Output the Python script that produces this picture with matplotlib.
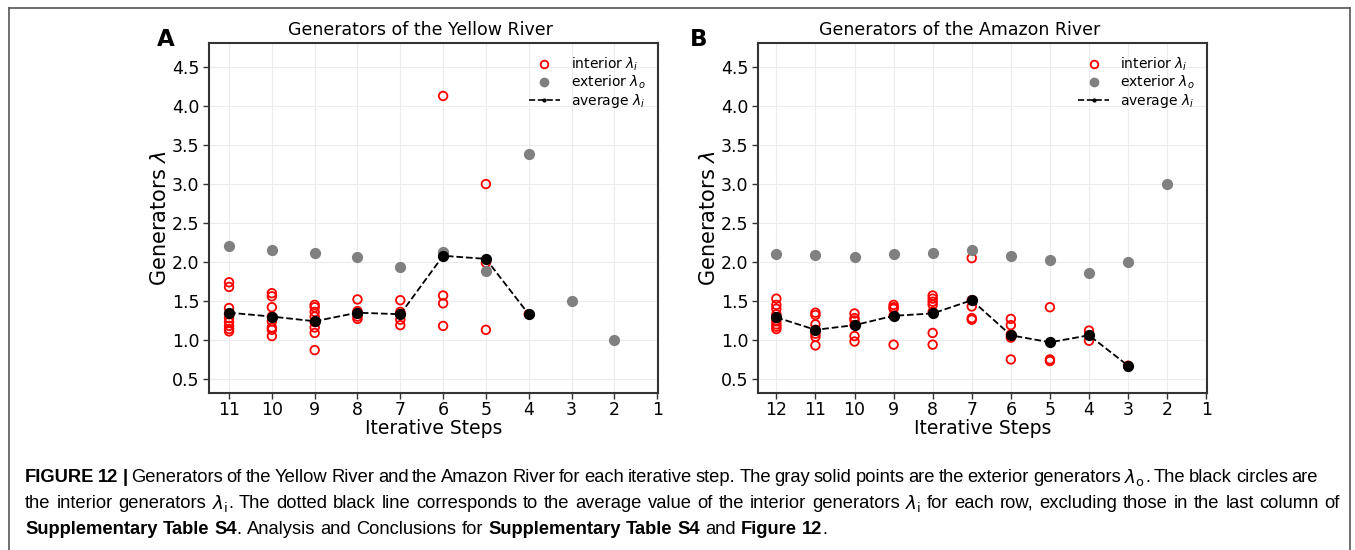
# Generators of the Yellow River / Amazon River per iterative step
import numpy as np
import matplotlib.pyplot as plt
from matplotlib.lines import Line2D

plt.rcParams['font.family'] = ['DejaVu Sans']

# Yellow River (panel A)
yr_steps = [11, 10, 9, 8, 7, 6, 5, 4, 3, 2]
yr_exterior = [2.20, 2.16, 2.12, 2.07, 1.94, 2.13, 1.88, 3.39, 1.50, 1.00]
yr_interior = [
    [1.74, 1.68, 1.41, 1.33, 1.28, 1.23, 1.18, 1.14, 1.11],
    [1.60, 1.56, 1.42, 1.30, 1.24, 1.16, 1.13, 1.05],
    [1.45, 1.42, 1.36, 1.30, 1.23, 1.16, 1.09, 0.87],
    [1.52, 1.37, 1.34, 1.30, 1.27],
    [1.51, 1.36, 1.33, 1.26, 1.19],
    [4.13, 1.57, 1.47, 1.18],
    [3.00, 1.99, 1.13],
    [1.33],
]
yr_avg = [1.35, 1.30, 1.24, 1.35, 1.33, 2.08, 2.04, 1.33]

# Amazon River (panel B)
am_steps = [12, 11, 10, 9, 8, 7, 6, 5, 4, 3, 2]
am_exterior = [2.10, 2.09, 2.07, 2.10, 2.12, 2.15, 2.08, 2.02, 1.86, 2.00, 3.00]
am_interior = [
    [1.53, 1.45, 1.40, 1.33, 1.24, 1.20, 1.17, 1.14],
    [1.35, 1.32, 1.20, 1.13, 1.08, 1.04, 0.93],
    [1.34, 1.28, 1.25, 1.19, 1.05, 0.98],
    [1.45, 1.42, 1.40, 1.31, 0.94],
    [1.57, 1.53, 1.49, 1.45, 1.36, 1.09, 0.94],
    [2.05, 1.51, 1.43, 1.28, 1.26],
    [1.27, 1.19, 1.07, 1.03, 0.75],
    [1.42, 0.75, 0.73],
    [1.12, 1.06, 0.99],
    [0.67],
]
am_avg = [1.29, 1.13, 1.19, 1.31, 1.34, 1.51, 1.06, 0.97, 1.06, 0.67]

fig = plt.figure(figsize=(13.55, 5.5), dpi=100)


def panel(ax, steps, exterior, interior, avg, title, xmax, title_x):
    for s, vals in zip(steps, interior):
        ax.scatter([s] * len(vals), vals, s=38, facecolors='none',
                   edgecolors='red', linewidths=1.3, zorder=3)
    ax.scatter(steps, exterior, s=50, color='#808080', zorder=3)
    avg_steps = steps[:len(avg)]
    ax.plot(avg_steps, avg, color='black', ls='--', lw=1.3, marker='.',
            ms=4, zorder=4)
    ax.scatter(avg_steps, avg, s=50, color='black', zorder=5)

    ax.set_xlim(xmax + 0.47, 0.98)
    ax.set_ylim(0.32, 4.81)
    ax.set_xticks(range(xmax, 0, -1))
    ax.set_yticks(np.arange(0.5, 4.6, 0.5))
    ax.grid(True, color='#ececec', lw=0.8)
    ax.set_axisbelow(True)
    for sp in ax.spines.values():
        sp.set_color('#333333')
        sp.set_linewidth(1.5)
    ax.tick_params(labelsize=12.5, length=4, width=1, color='#333333', pad=3)
    ax.tick_params(axis='x', pad=1.5)
    ax.set_title(title, fontsize=12.5, pad=6, x=title_x)
    ax.set_xlabel('Iterative Steps', fontsize=13.5, labelpad=0)
    ax.set_ylabel(r'Generators $\lambda$', fontsize=15, labelpad=1)

    handles = [
        Line2D([], [], ls='none', marker='o', ms=5.5, mfc='none', mec='red', mew=1.3),
        Line2D([], [], ls='none', marker='o', ms=6, color='#808080'),
        Line2D([], [], ls='--', lw=1.2, color='black', marker='.', ms=4),
    ]
    ax.legend(handles, [r'interior $\lambda_i$', r'exterior $\lambda_o$',
                        r'average $\lambda_i$'],
              loc='upper right', frameon=False, fontsize=10,
              handlelength=2.2, labelspacing=0.05, borderaxespad=0.5)


ax1 = fig.add_axes([0.1542, 0.2855, 0.3314, 0.6364])
ax2 = fig.add_axes([0.5594, 0.2855, 0.3314, 0.6364])
panel(ax1, yr_steps, yr_exterior, yr_interior, yr_avg,
      'Generators of the Yellow River', 11, 0.47)
panel(ax2, am_steps, am_exterior, am_interior, am_avg,
      'Generators of the Amazon River', 12, 0.45)

fig.text(157 / 1355, 1 - 40 / 550, 'A', fontsize=16.5, fontweight='bold',
         ha='left', va='center')
fig.text(690 / 1355, 1 - 40 / 550, 'B', fontsize=16.5, fontweight='bold',
         ha='left', va='center')

# outer frame
for xs, ys in [([9, 9], [560, 8]), ([9, 1350], [8, 8]), ([1350, 1350], [8, 560])]:
    fig.add_artist(Line2D([x / 1355 for x in xs], [1 - y / 550 for y in ys],
                          color='#555555', lw=1.2))

# caption, drawn word by word so the first two lines can be justified
cap_font = ['Liberation Sans', 'DejaVu Sans']
cap_lines = [
    [('FIGURE 12 |', True),
     (' Generators of the Yellow River and the Amazon River for each iterative step. '
      'The gray solid points are the exterior generators', False),
     (r' $\lambda_\mathrm{o}$', False), ('. The black circles are', False)],
    [('the interior generators', False), (r' $\lambda_\mathrm{i}$', False),
     ('. The dotted black line corresponds to the average value of the interior generators',
      False),
     (r' $\lambda_\mathrm{i}$', False),
     (' for each row, excluding those in the last column of', False)],
    [('Supplementary Table S4', True), ('. Analysis and Conclusions for', False),
     (' Supplementary Table S4', True), (' and', False), (' Figure 12', True),
     ('.', False)],
]
cap_right = [1318, 1340, None]
cap_y = [477, 503, 529]
renderer = fig.canvas.get_renderer()


def width_of(s, size, bold=False):
    t = fig.text(0, 0, s, fontsize=size, family=cap_font,
                 fontweight='bold' if bold else 'normal')
    w = t.get_window_extent(renderer).width
    t.remove()
    return w


def split_words(chunks):
    words = []
    for txt, bold in chunks:
        glue = not txt.startswith(' ')
        for i, w in enumerate(txt.strip().split(' ')):
            words.append((w, bold, i == 0 and glue and len(words) > 0))
    return words


# fit the font size so that line 2 nearly fills its width
size = 11.0
w2 = split_words(cap_lines[1])
sp0 = width_of('a b', size) - width_of('ab', size)
nat = sum(width_of(w, size, b) for w, b, _ in w2)
nat += sum(1 for _, _, g in w2[1:] if not g) * sp0
size = size * 1300 / nat

space = width_of('a b', size) - width_of('ab', size)
for chunks, right, yy in zip(cap_lines, cap_right, cap_y):
    words = split_words(chunks)
    arts = []
    for w, bold, glue in words:
        t = fig.text(0, 1 - yy / 550, w, fontsize=size, family=cap_font,
                     fontweight='bold' if bold else 'normal', va='center')
        arts.append((t, glue))
    widths = [t.get_window_extent(renderer).width for t, _ in arts]
    ngaps = sum(1 for _, g in arts[1:] if not g)
    gap = space
    if right is not None and ngaps > 0:
        gap = (right - 25 - sum(widths)) / ngaps
    x = 25.0
    for i, ((t, glue), w) in enumerate(zip(arts, widths)):
        if i > 0 and not glue:
            x += gap
        t.set_x(x / 1355)
        x += w

fig.savefig('out.png', dpi=100)
